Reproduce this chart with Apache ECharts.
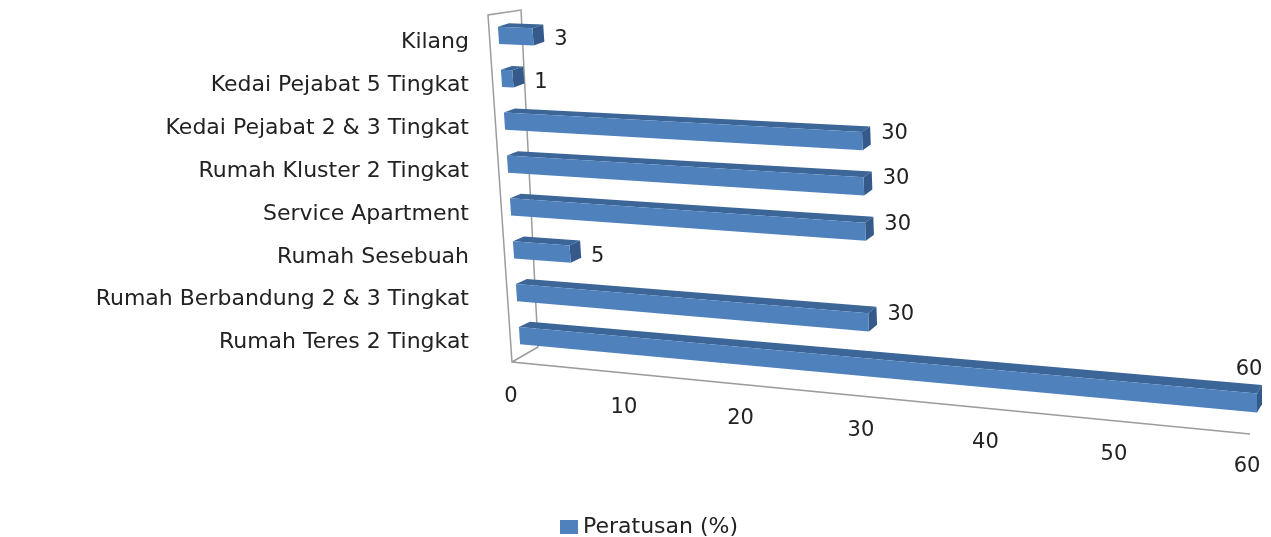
<!DOCTYPE html>
<html>
<head>
<meta charset="utf-8">
<title>Peratusan</title>
<script src="https://cdn.jsdelivr.net/npm/echarts@6/dist/echarts.min.js"></script>
<style>
    html, body { margin: 0; padding: 0; background: #fff; }
    #main { width: 1271px; height: 537px; }
</style>
</head>
<body>
<div id="main"></div>
<script>
    // data, top row first
    var categories = ['Kilang', 'Kedai Pejabat 5 Tingkat', 'Kedai Pejabat 2 & 3 Tingkat', 'Rumah Kluster 2 Tingkat',
        'Service Apartment', 'Rumah Sesebuah', 'Rumah Berbandung 2 & 3 Tingkat', 'Rumah Teres 2 Tingkat']
    var values = [3, 1, 30, 30, 30, 5, 30, 60]
    var xTicks = [0, 10, 20, 30, 40, 50, 60]
    var seriesName = 'Peratusan (%)'

    var font = 'DejaVu Sans'
    var textColor = '#222'
    var frameColor = '#9c9c9c'

    // slight bend of the value axis, like the 3d view of the original
    var persp = -0.0934

    // flat grid position -> slanted 3d-looking plane
    function project(api, cs, v, r) {
        var band = api.size([0, 1])[1]
        var c = api.coord([v, 0])
        var fx = c[0]
        var fy = c[1] - band / 2 + r * band
        var t = (fx - cs.x) / cs.width
        var s = (fy - cs.y) / cs.height
        t = t * (1 + persp) / (1 + persp * t)
        var ax = cs.x, ay = cs.y
        var bx = cs.x + 24, by = cs.y + cs.height
        var cx = cs.x + cs.width, cy = cs.y + 29
        var dx = cs.x + cs.width, dy = cs.y + cs.height + 70
        return {
            x: (1 - s) * (1 - t) * ax + s * (1 - t) * bx + (1 - s) * t * cx + s * t * dx,
            y: (1 - s) * (1 - t) * ay + s * (1 - t) * by + (1 - s) * t * cy + s * t * dy,
            s: s,
            t: t
        }
    }

    // depth offset of the boxes (top / side faces)
    function depth(p) {
        return [11 - 6 * p.t, -(3.5 + 2 * p.s + 3 * p.t)]
    }

    function pt(p, d) {
        return d ? [p.x + d[0], p.y + d[1]] : [p.x, p.y]
    }

    function renderBar(params, api) {
        var cs = params.coordSys
        var v = api.value(0)
        var i = api.value(1)
        var p1 = project(api, cs, 0, i + 0.3)
        var p2 = project(api, cs, v, i + 0.3)
        var p3 = project(api, cs, v, i + 0.7)
        var p4 = project(api, cs, 0, i + 0.7)
        var d1 = depth(p1), d2 = depth(p2), d3 = depth(p3)

        var label
        if (p2.x + d2[0] + 45 > api.getWidth()) {
            label = { x: p2.x - 8, y: p2.y + d2[1] - 16, align: 'center' }
        } else {
            label = { x: p2.x + d2[0] + 11, y: (p2.y + p3.y) / 2 + 4 - 24 * p2.t, align: 'left' }
        }

        return {
            type: 'group',
            children: [{
                    type: 'polygon',
                    shape: { points: [pt(p1), pt(p2), pt(p2, d2), pt(p1, d1)] },
                    style: { fill: '#3c6698' }
                },
                {
                    type: 'polygon',
                    shape: { points: [pt(p2), pt(p2, d2), pt(p3, d3), pt(p3)] },
                    style: { fill: '#34598a' }
                },
                {
                    type: 'polygon',
                    shape: { points: [pt(p1), pt(p2), pt(p3), pt(p4)] },
                    style: { fill: '#4f81bd' }
                },
                {
                    type: 'text',
                    style: {
                        x: label.x,
                        y: label.y,
                        text: String(v),
                        fill: textColor,
                        font: '21px "' + font + '"',
                        align: label.align,
                        verticalAlign: 'middle'
                    }
                }
            ]
        }
    }

    function renderFrame(params, api) {
        var cs = params.coordSys
        var rows = categories.length
        var top = project(api, cs, xTicks[0], 0)
        var bottom = project(api, cs, xTicks[0], rows)
        var end = project(api, cs, xTicks[xTicks.length - 1], rows)
        var outerTop = pt(top, [-9, 1])
        var innerTop = pt(top, [24, -4])
        var outerBottom = pt(bottom, [-9, 5])
        var innerBottom = pt(bottom, [17, -10])
        var floorEnd = pt(end, [-7, 7])
        return {
            type: 'polyline',
            shape: { points: [floorEnd, outerBottom, outerTop, innerTop, innerBottom, outerBottom] },
            style: { stroke: frameColor, lineWidth: 1.5, fill: null }
        }
    }

    function renderTick(params, api) {
        var cs = params.coordSys
        var p = project(api, cs, api.value(0), categories.length)
        return {
            type: 'text',
            style: {
                x: p.x - 10,
                y: p.y + 40,
                text: String(api.value(0)),
                fill: textColor,
                font: '21px "' + font + '"',
                align: 'center',
                verticalAlign: 'middle'
            }
        }
    }

    var myChart = echarts.init(document.getElementById('main'))
    myChart.setOption({
        animation: false,
        legend: {
            data: [{ name: seriesName, icon: 'rect' }],
            left: 555,
            top: 511,
            itemWidth: 18,
            itemHeight: 14,
            textStyle: { fontSize: 22, fontFamily: font, color: textColor }
        },
        grid: {
            left: 497,
            top: 14,
            width: 760,
            height: 343
        },
        xAxis: {
            type: 'value',
            min: xTicks[0],
            max: xTicks[xTicks.length - 1],
            show: false
        },
        yAxis: {
            type: 'category',
            inverse: true,
            data: categories,
            axisLine: { show: false },
            axisTick: { show: false },
            splitLine: { show: false },
            axisLabel: {
                margin: 28,
                verticalAlign: 'top',
                lineHeight: 14,
                fontSize: 22,
                fontFamily: font,
                color: textColor
            }
        },
        series: [{
                name: 'frame',
                type: 'custom',
                silent: true,
                z: 1,
                renderItem: renderFrame,
                data: [[xTicks[0], 0]]
            },
            {
                name: seriesName,
                type: 'custom',
                z: 2,
                itemStyle: { color: '#4f81bd' },
                encode: { x: 0, y: 1 },
                renderItem: renderBar,
                data: values.map(function (v, i) { return [v, i] })
            },
            {
                name: 'ticks',
                type: 'custom',
                silent: true,
                z: 3,
                renderItem: renderTick,
                data: xTicks.map(function (v) { return [v, 0] })
            }
        ]
    })
</script>
</body>
</html>
